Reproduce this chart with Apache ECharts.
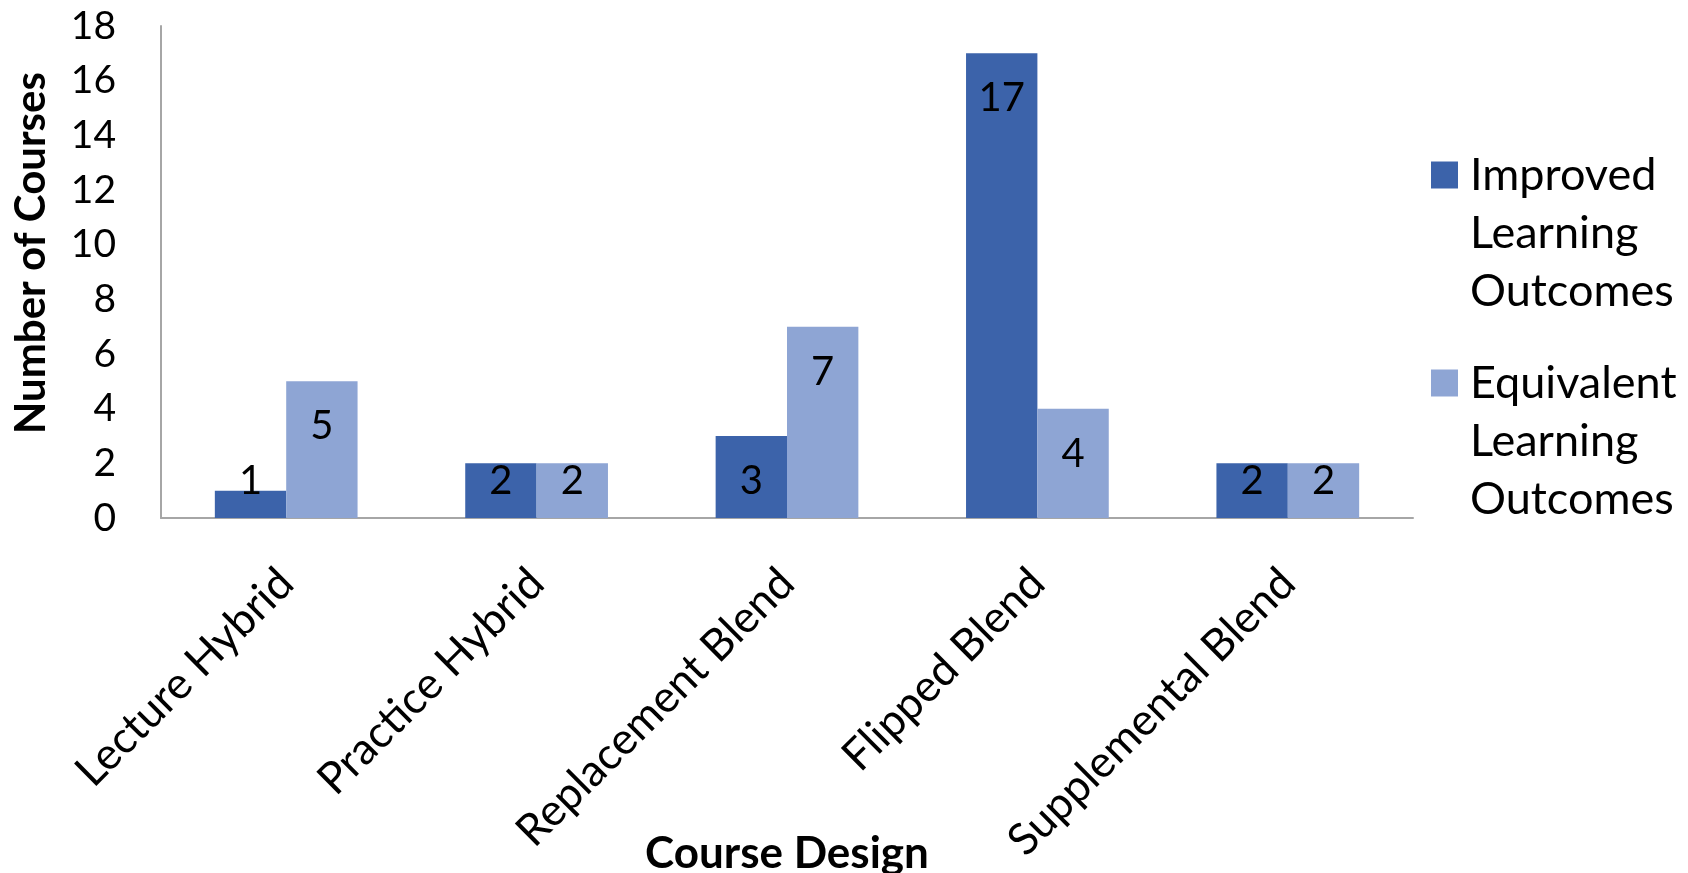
<!DOCTYPE html>
<html>
<head>
<meta charset="utf-8">
<title>Course Design Outcomes</title>
<script src="https://cdn.jsdelivr.net/npm/echarts@6/dist/echarts.min.js"></script>
<style>
  html, body { margin: 0; padding: 0; background: #ffffff; }
  #chart { width: 1688px; height: 873px; }
</style>
</head>
<body>
<div id="chart"></div>
<script>
// Course designs and number of courses per outcome
const categories = ['Lecture Hybrid', 'Practice Hybrid', 'Replacement Blend', 'Flipped Blend', 'Supplemental Blend'];
const improved = [1, 2, 3, 17, 2];
const equivalent = [5, 2, 7, 4, 2];
const seriesNames = ['Improved Learning Outcomes', 'Equivalent Learning Outcomes'];
const yTicks = { min: 0, max: 18, interval: 2 };

const FONT = 'Lato';
const colors = ['#3C63AA', '#8EA5D4'];

// Value labels sit near the top of a bar; short bars keep them resting on the base
function labelled(values) {
  return values.map(v => ({
    value: v,
    label: v >= 3
      ? { position: 'insideTop', distance: 22 }
      : { position: 'insideBottom', distance: 14 }
  }));
}

const valueLabel = {
  show: true,
  color: '#000000',
  fontFamily: FONT,
  fontSize: 40,
  lineHeight: 46
};

// Legend: one word per line, the swatch beside the first line
// (two blank lines on top keep the first word at the block's centre)
function legendFor(name, top) {
  return {
    data: [name],
    orient: 'vertical',
    left: 1431,
    top: top,
    padding: 0,
    itemWidth: 27,
    itemHeight: 27,
    itemGap: 0,
    icon: 'rect',
    selectedMode: false,
    formatter: n => '\n\n' + n.split(' ').map(w => '{t|' + w + '}').join('\n'),
    textStyle: {
      fontFamily: FONT,
      fontSize: 45,
      lineHeight: 58,
      color: '#000000',
      rich: {
        t: {
          fontFamily: FONT,
          fontSize: 45,
          lineHeight: 58,
          color: '#000000',
          padding: [0, 0, 0, 7]
        }
      }
    }
  };
}

const chart = echarts.init(document.getElementById('chart'), null, { renderer: 'canvas' });

chart.setOption({
  animation: false,
  backgroundColor: '#ffffff',
  grid: {
    left: 161,
    right: 275,
    top: 26,
    bottom: 355,
    containLabel: false,
    outerBoundsMode: 'none'
  },
  legend: [
    legendFor(seriesNames[0], 30),
    legendFor(seriesNames[1], 238)
  ],
  xAxis: {
    type: 'category',
    data: categories,
    name: 'Course Design',
    nameLocation: 'middle',
    nameGap: 314,
    nameMoveOverlap: false,
    nameTextStyle: { fontFamily: FONT, fontSize: 44, fontWeight: 'bold', color: '#000000' },
    axisLine: { show: true, lineStyle: { color: '#A6A6A6', width: 2 } },
    axisTick: { show: false },
    axisLabel: {
      interval: 0,
      rotate: 45,
      margin: 58,
      fontFamily: FONT,
      fontSize: 44,
      color: '#000000'
    },
    splitLine: { show: false }
  },
  yAxis: {
    type: 'value',
    min: yTicks.min,
    max: yTicks.max,
    interval: yTicks.interval,
    name: 'Number of Courses',
    nameLocation: 'middle',
    nameGap: 109,
    nameMoveOverlap: false,
    nameTextStyle: {
      fontFamily: FONT, fontSize: 42, fontWeight: 'bold', color: '#000000',
      padding: [0, 0, 0, 38]
    },
    axisLine: { show: true, lineStyle: { color: '#A6A6A6', width: 2 } },
    axisTick: { show: false },
    axisLabel: { margin: 45, fontFamily: FONT, fontSize: 39, color: '#000000' },
    splitLine: { show: false }
  },
  series: [
    {
      name: seriesNames[0],
      type: 'bar',
      data: labelled(improved),
      itemStyle: { color: colors[0] },
      label: valueLabel,
      barGap: '0%',
      barCategoryGap: '43%'
    },
    {
      name: seriesNames[1],
      type: 'bar',
      data: labelled(equivalent),
      itemStyle: { color: colors[1] },
      label: valueLabel,
      barGap: '0%',
      barCategoryGap: '43%'
    }
  ]
});
</script>
</body>
</html>
